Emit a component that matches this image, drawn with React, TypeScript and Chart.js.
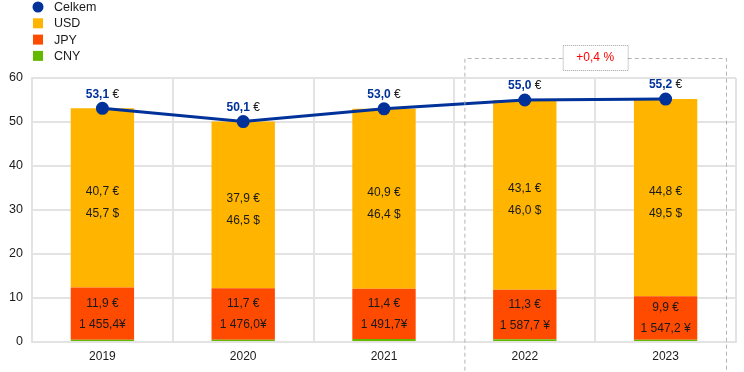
import React, { useEffect, useRef } from "react";
import { Chart, registerables } from "chart.js";
Chart.register(...registerables);

const years = ["2019", "2020", "2021", "2022", "2023"];
const cny = [0.5, 0.5, 0.7, 0.6, 0.5];
const jpy = [11.9, 11.7, 11.4, 11.3, 9.9];
const usd = [40.7, 37.9, 40.9, 43.1, 44.8];
const total = [53.1, 50.1, 53.0, 55.0, 55.2];
const usdInUsd = ["45,7 $", "46,5 $", "46,4 $", "46,0 $", "49,5 $"];
const jpyInYen = ["1 455,4¥", "1 476,0¥", "1 491,7¥", "1 587,7 ¥", "1 547,2 ¥"];
const changeLabel = "+0,4 %";
const yTicks = [0, 10, 20, 30, 40, 50, 60];

const BLUE = "#003299";
const GRID = "#e3e3e3";
const FONT = "'Liberation Sans', Arial, sans-serif";
const fmt = (v: number) => v.toFixed(1).replace(".", ",");

const labelsPlugin = {
  id: "customLabels",
  afterDatasetsDraw(chart: any) {
    const ctx = chart.ctx;
    const x = chart.scales.x;
    const y = chart.scales.y;
    ctx.save();
    ctx.font = `12px ${FONT}`;
    ctx.textAlign = "center";
    ctx.textBaseline = "middle";
    ctx.fillStyle = "#1a1a1a";
    years.forEach((_, i) => {
      const cx = x.getPixelForValue(i);
      // JPY
      const jb = y.getPixelForValue(cny[i]);
      const jt = y.getPixelForValue(cny[i] + jpy[i]);
      const jm = (jb + jt) / 2;
      ctx.fillText(fmt(jpy[i]) + " €", cx, jm - 10);
      ctx.fillText(jpyInYen[i], cx, jm + 11);
      // USD
      const ub = jt;
      const ut = y.getPixelForValue(cny[i] + jpy[i] + usd[i]);
      const um = (ub + ut) / 2;
      ctx.fillText(fmt(usd[i]) + " €", cx, um - 6);
      ctx.fillText(usdInUsd[i], cx, um + 16);
      // total
      const py = y.getPixelForValue(total[i]);
      const num = fmt(total[i]);
      ctx.font = `bold 12px ${FONT}`;
      const w1 = ctx.measureText(num).width;
      ctx.font = `12px ${FONT}`;
      const w2 = ctx.measureText(" €").width;
      const start = cx - (w1 + w2) / 2;
      ctx.textAlign = "left";
      ctx.font = `bold 12px ${FONT}`;
      ctx.fillStyle = BLUE;
      ctx.fillText(num, start, py - 14);
      ctx.font = `12px ${FONT}`;
      ctx.fillStyle = "#1a1a1a";
      ctx.fillText(" €", start + w1, py - 14);
      ctx.textAlign = "center";
    });

    // dashed highlight box over last two years
    const half = (x.getPixelForValue(1) - x.getPixelForValue(0)) / 2;
    const left = x.getPixelForValue(3) - half + 10;
    const right = x.getPixelForValue(4) + half - 10;
    const top = y.getPixelForValue(60) - 20;
    const bottom = chart.height + 2;
    const midX = (left + right) / 2 + 0;
    const bw = 65;
    const bh = 25;
    ctx.strokeStyle = "#b3b3b3";
    ctx.lineWidth = 1;
    ctx.setLineDash([4, 3]);
    ctx.beginPath();
    ctx.moveTo(midX - bw / 2, top + 0.5);
    ctx.lineTo(left + 0.5, top + 0.5);
    ctx.lineTo(left + 0.5, bottom);
    ctx.moveTo(midX + bw / 2, top + 0.5);
    ctx.lineTo(right + 0.5, top + 0.5);
    ctx.lineTo(right + 0.5, bottom);
    ctx.stroke();
    ctx.setLineDash([1, 1]);
    ctx.strokeStyle = "#a0a0a0";
    ctx.strokeRect(midX - bw / 2 + 0.5, top - 13 + 0.5, bw, bh);
    ctx.setLineDash([]);
    ctx.fillStyle = "#ff0000";
    ctx.fillText(changeLabel, midX, top - 0.5);

    // legend
    const items = [
      { t: "Celkem", c: BLUE, circle: true },
      { t: "USD", c: "#FFB400" },
      { t: "JPY", c: "#FF4B00" },
      { t: "CNY", c: "#65B800" },
    ];
    ctx.textAlign = "left";
    items.forEach((it, k) => {
      const yy = 7 + k * 16.3;
      ctx.fillStyle = it.c;
      if (it.circle) {
        ctx.beginPath();
        ctx.arc(38, yy, 5.5, 0, Math.PI * 2);
        ctx.fill();
      } else {
        ctx.fillRect(33, yy - 5, 10, 10);
      }
      ctx.fillStyle = "#1a1a1a";
      ctx.font = `12.5px ${FONT}`;
      ctx.fillText(it.t, 54, yy + 0.5);
    });
    ctx.restore();
  },
};

export default function App() {
  const ref = useRef<HTMLCanvasElement>(null);
  useEffect(() => {
    document.body.style.margin = "0";
    const chart = new Chart(ref.current!, {
      type: "bar",
      data: {
        labels: years,
        datasets: [
          {
            type: "line",
            label: "Celkem",
            data: total,
            borderColor: BLUE,
            backgroundColor: BLUE,
            borderWidth: 3,
            pointRadius: 5,
            pointHoverRadius: 5,
            stack: "line",
            order: 0,
          } as any,
          { label: "CNY", data: cny, backgroundColor: "#65B800", stack: "bars", order: 1 },
          { label: "JPY", data: jpy, backgroundColor: "#FF4B00", stack: "bars", order: 1 },
          { label: "USD", data: usd, backgroundColor: "#FFB400", stack: "bars", order: 1 },
        ],
      },
      options: {
        animation: false,
        responsive: false,
        maintainAspectRatio: false,
        layout: { padding: { left: 0, right: 7, top: 78, bottom: 0 } },
        datasets: { bar: { barPercentage: 0.45, categoryPercentage: 1 } },
        plugins: { legend: { display: false }, tooltip: { enabled: false } },
        scales: {
          x: {
            stacked: true,
            grid: { color: GRID, lineWidth: 2, drawTicks: false, offset: true },
            border: { color: GRID, width: 2 },
            ticks: { color: "#1a1a1a", font: { family: FONT, size: 12 }, padding: 7 },
            afterFit: (s: any) => { s.height = 30; },
          },
          y: {
            stacked: true,
            min: 0,
            max: 60,
            afterBuildTicks: (s: any) => { s.ticks = yTicks.map((v) => ({ value: v })); },
            grid: { color: GRID, lineWidth: 2, drawTicks: false },
            border: { color: GRID, width: 2 },
            ticks: { color: "#1a1a1a", font: { family: FONT, size: 12.5 }, padding: 9 },
            afterFit: (s: any) => { s.width = 32; },
          },
        },
      },
      plugins: [labelsPlugin],
    });
    return () => chart.destroy();
  }, []);
  return (
    <div style={{ width: 744, height: 372 }}>
      <canvas ref={ref} width={744} height={372} />
    </div>
  );
}
